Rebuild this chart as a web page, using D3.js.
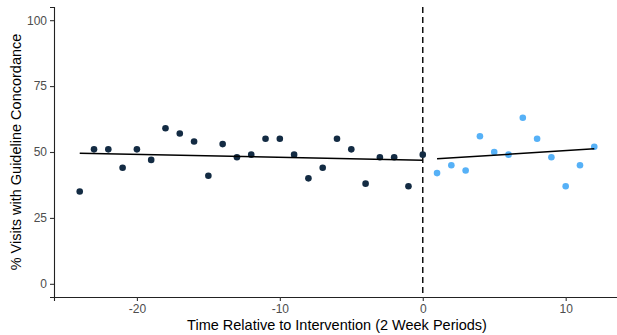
<!DOCTYPE html>
<html><head><meta charset="utf-8">
<script src="https://cdn.jsdelivr.net/npm/d3@7"></script>
<style>body{margin:0;background:#fff}svg{display:block;font-family:"Liberation Sans",Arial,sans-serif}</style>
</head><body><svg id="c" width="617" height="335"></svg>
<script>
const preTimes = [-24,-23,-22,-21,-20,-19,-18,-17,-16,-15,-14,-13,-12,-11,-10,-9,-8,-7,-6,-5,-4,-3,-2,-1,0];
const preValues = [35,51,51,44,51,47,59,57,54,41,53,48,49,55,55,49,40,44,55,51,38,48,48,37,49];
const postTimes = [1,2,3,4,5,6,7,8,9,10,11,12];
const postValues = [42,45,43,56,50,49,63,55,48,37,45,52];
const preFitTimes = [-24,0];
const preFitValues = [49.5,46.9];
const postFitTimes = [1,12];
const postFitValues = [47.4,51.2];
const xTicks = [-20,-10,0,10];
const yTicks = [0,25,50,75,100];
const interventionTime = 0;

const svg = d3.select("#c");
const m = {l:54, r:-3, t:7, b:38};
const W = 617, H = 335;
const x = d3.scaleLinear().domain([-25.8,13.8]).range([m.l, W - m.r]);
const y = d3.scaleLinear().domain([-5,105]).range([H - m.b, m.t]);

// axes
const xa = svg.append("g").attr("transform",`translate(0,${H-m.b})`)
  .call(d3.axisBottom(x).tickValues(xTicks).tickSize(4).tickPadding(3).tickFormat(d=>String(d)));
const ya = svg.append("g").attr("transform",`translate(${m.l},0)`)
  .call(d3.axisLeft(y).tickValues(yTicks).tickSize(4).tickPadding(3).tickFormat(d=>String(d)));
[xa,ya].forEach(g=>{
  g.select(".domain").attr("stroke","#222").attr("stroke-width",1.1);
  g.selectAll(".tick line").attr("stroke","#333").attr("stroke-width",1.1);
  g.selectAll(".tick text").attr("fill","#4D4D4D").style("font-size","12px").style("font-family","Liberation Sans, Arial, sans-serif");
});

// dashed intervention line
svg.append("line").attr("x1",x(interventionTime)).attr("x2",x(interventionTime))
  .attr("y1",y(105)).attr("y2",y(-5)).attr("stroke","#111").attr("stroke-width",1.5)
  .attr("stroke-dasharray","6,4");

// points
const pre = preTimes.map((t,i)=>({t,v:preValues[i]}));
const post = postTimes.map((t,i)=>({t,v:postValues[i]}));
svg.append("g").selectAll("circle").data(pre).join("circle")
  .attr("cx",d=>x(d.t)).attr("cy",d=>y(d.v)).attr("r",3.3).attr("fill","#132B43");
svg.append("g").selectAll("circle").data(post).join("circle")
  .attr("cx",d=>x(d.t)).attr("cy",d=>y(d.v)).attr("r",3.3).attr("fill","#56B1F7");

// fit lines
const line = d3.line().x(d=>x(d[0])).y(d=>y(d[1]));
svg.append("path").attr("d",line(preFitTimes.map((t,i)=>[t,preFitValues[i]]))).attr("fill","none").attr("stroke","#000").attr("stroke-width",1.5);
svg.append("path").attr("d",line(postFitTimes.map((t,i)=>[t,postFitValues[i]]))).attr("fill","none").attr("stroke","#000").attr("stroke-width",1.5);

// titles
svg.append("text").attr("x",(m.l+W-m.r)/2).attr("y",330).attr("text-anchor","middle")
  .style("font-size","14.5px").attr("fill","#000").text("Time Relative to Intervention (2 Week Periods)");
svg.append("text").attr("transform",`translate(21,${(y(105)+y(-5))/2}) rotate(-90)`).attr("text-anchor","middle")
  .style("font-size","14.5px").attr("fill","#000").text("% Visits with Guideline Concordance");
</script></body></html>
